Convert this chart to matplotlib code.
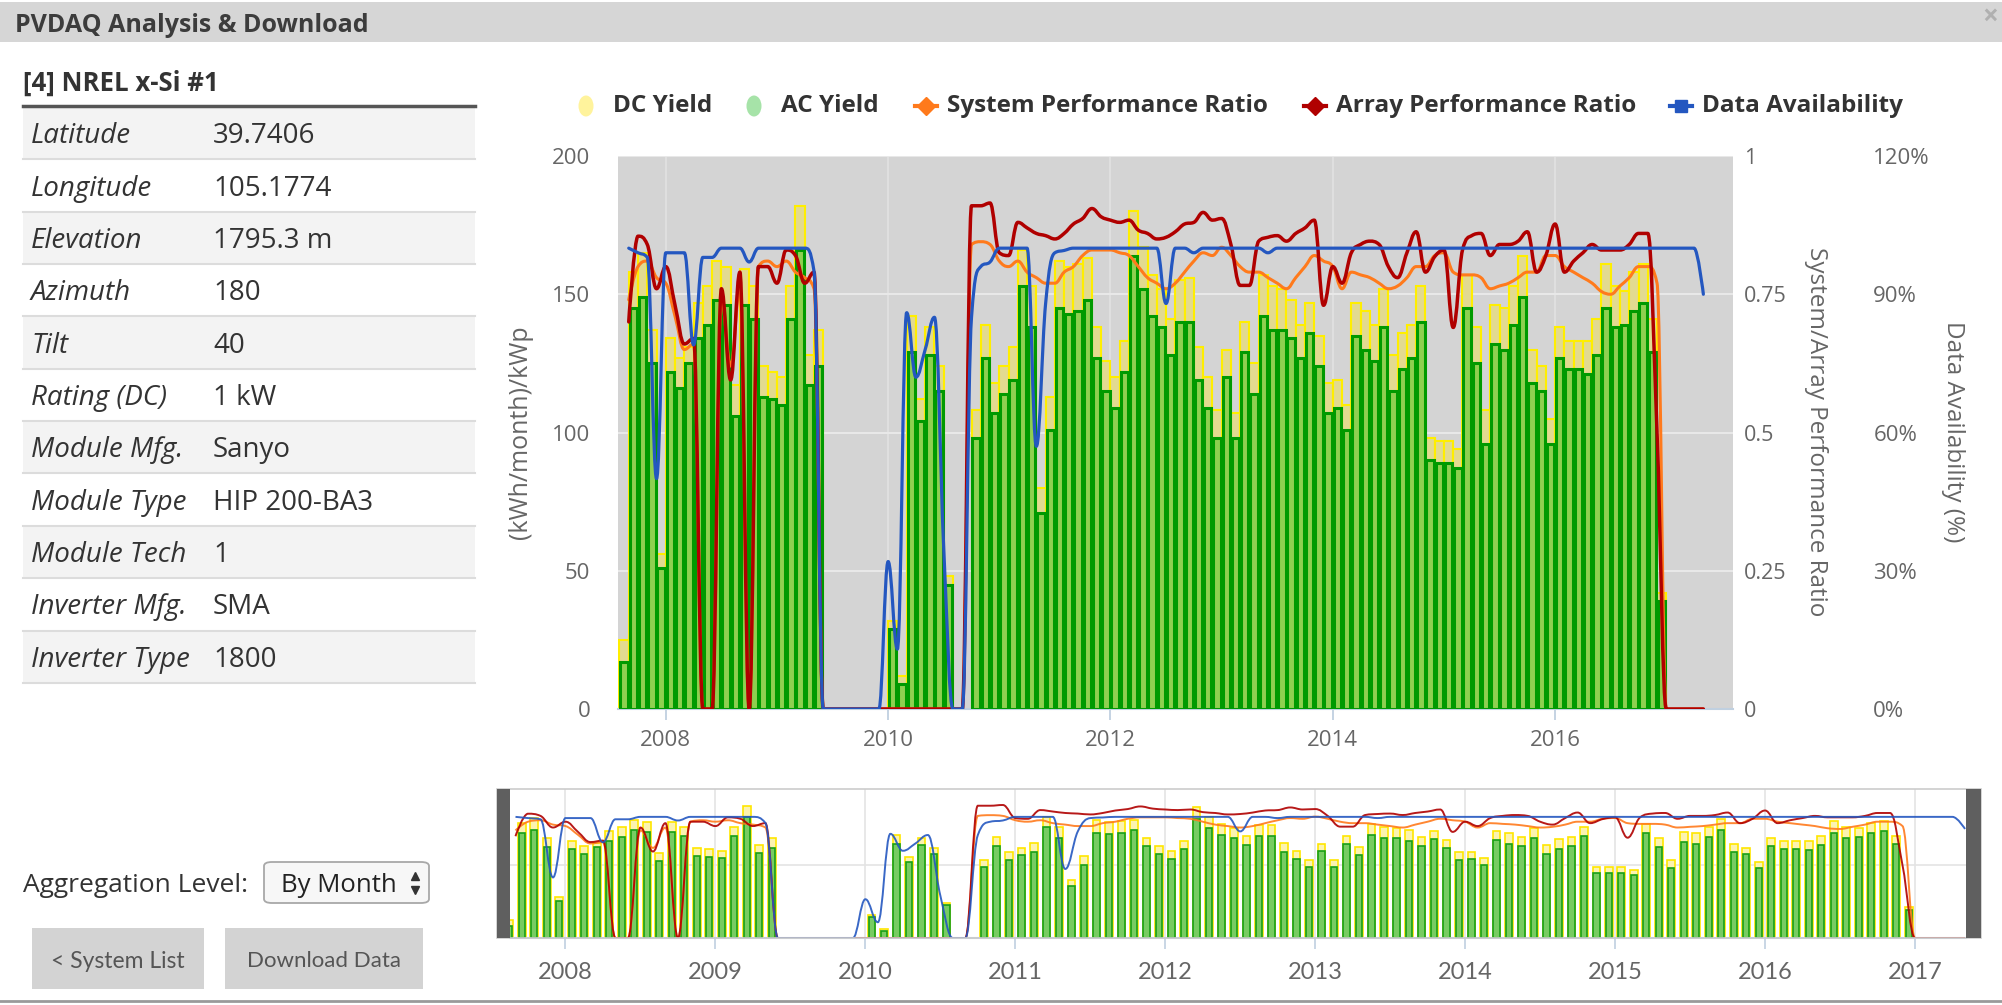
import numpy as np
import matplotlib
matplotlib.use('Agg')
import matplotlib.pyplot as plt
from matplotlib.path import Path
from matplotlib.patches import PathPatch, Rectangle, FancyBboxPatch, Ellipse
from matplotlib.lines import Line2D

plt.rcParams['font.family'] = ['Open Sans', 'DejaVu Sans']
NARROW = ['Lato', 'DejaVu Sans']

N = None

# left panel
system_name = '[4] NREL x-Si #1'
info_labels = ['Latitude', 'Longitude', 'Elevation', 'Azimuth', 'Tilt', 'Rating (DC)',
               'Module Mfg.', 'Module Type', 'Module Tech', 'Inverter Mfg.', 'Inverter Type']
info_values = ['39.7406', '105.1774', '1795.3 m', '180', '40', '1 kW',
               'Sanyo', 'HIP 200-BA3', '1', 'SMA', '1800']

# monthly yields (kWh/month)/kWp, Aug 2007 .. Dec 2016
dc_yield = [25, 158, 165, 137, 56,
            134, 127, 131, 147, 153, 162, 160, 117, 159, 153, 124, 122,
            120, 153, 182, 128, 137, N, N, N, N, N, N, N,
            32, 12, 142, 112, 138, 124, 48, N, N, 108, 139, 118,
            124, 131, 166, 153, 80, 113, 162, 160, 161, 163, 138, 126,
            120, 133, 180, 167, 157, 152, 141, 155, 156, 131, 120, 108,
            130, 107, 140, 125, 157, 153, 152, 148, 139, 147, 135, 118,
            119, 110, 147, 144, 139, 152, 128, 136, 139, 153, 98, 97,
            97, 94, 157, 138, 108, 146, 145, 153, 164, 130, 124, 105,
            138, 133, 133, 133, 141, 161, 153, 151, 158, 161, 141, 42]
ac_yield = [17, 145, 149, 125, 51,
            122, 116, 125, 134, 139, 148, 146, 106, 146, 141, 113, 112,
            110, 141, 166, 117, 124, N, N, N, N, N, N, N,
            29, 9, 129, 104, 128, 115, 45, N, N, 98, 127, 107,
            114, 119, 153, 138, 71, 101, 145, 143, 144, 148, 127, 115,
            109, 122, 164, 152, 142, 138, 128, 140, 140, 119, 109, 98,
            120, 98, 129, 114, 142, 137, 137, 134, 127, 136, 124, 107,
            109, 101, 135, 130, 126, 138, 115, 123, 127, 140, 90, 89,
            89, 87, 145, 125, 96, 132, 130, 139, 149, 118, 115, 96,
            127, 123, 123, 121, 128, 145, 138, 139, 144, 147, 129, 39]

# monthly ratios, Sep 2007 .. May 2017
system_pr = [0.74, 0.80, 0.81, 0.78,
             0.77, 0.71, 0.65, 0.66, 0, 0, 0.74, 0.62, 0.76, 0, 0.80, 0.81,
             0.80, 0.81, 0.79, 0.78, 0.76, 0, 0, 0, 0, 0, 0, 0,
             0, 0, 0, 0, 0, 0, 0, 0, 0, 0.84, 0.845, 0.84,
             0.81, 0.80, 0.81, 0.79, 0.78, 0.77, 0.77, 0.79, 0.80, 0.82, 0.83, 0.83,
             0.83, 0.825, 0.82, 0.80, 0.78, 0.77, 0.76, 0.77, 0.79, 0.81, 0.825, 0.82,
             0.835, 0.82, 0.80, 0.79, 0.79, 0.78, 0.77, 0.76, 0.78, 0.80, 0.82, 0.81,
             0.80, 0.76, 0.79, 0.785, 0.78, 0.77, 0.76, 0.765, 0.78, 0.80, 0.80, 0.82,
             0.825, 0.79, 0.785, 0.785, 0.78, 0.76, 0.765, 0.77, 0.78, 0.79, 0.79, 0.82,
             0.82, 0.80, 0.79, 0.78, 0.77, 0.755, 0.75, 0.765, 0.78, 0.80, 0.80, 0.77,
             0, 0, 0, 0, 0]
array_pr = [0.70, 0.855, 0.84, 0.76,
            0.80, 0.73, 0.66, 0.67, 0, 0, 0.76, 0.595, 0.79, 0, 0.80, 0.80,
            0.77, 0.83, 0.82, 0.77, 0.79, 0, 0, 0, 0, 0, 0, 0,
            0, 0, 0, 0, 0, 0, 0, 0, 0, 0.91, 0.91, 0.915,
            0.825, 0.82, 0.88, 0.87, 0.86, 0.856, 0.85, 0.86, 0.877, 0.887, 0.905, 0.89,
            0.884, 0.88, 0.884, 0.866, 0.86, 0.85, 0.853, 0.863, 0.877, 0.88, 0.898, 0.884,
            0.887, 0.84, 0.766, 0.766, 0.846, 0.853, 0.856, 0.846, 0.86, 0.87, 0.884, 0.73,
            0.80, 0.77, 0.825, 0.84, 0.846, 0.84, 0.80, 0.78, 0.825, 0.863, 0.79, 0.818,
            0.83, 0.69, 0.83, 0.856, 0.86, 0.82, 0.84, 0.84, 0.846, 0.863, 0.79, 0.82,
            0.877, 0.79, 0.81, 0.825, 0.84, 0.83, 0.83, 0.83, 0.84, 0.86, 0.86, 0.5,
            0, 0, 0, 0, 0]
availability = [100, 99, 98, 50,
                99, 99, 99, 79, 98, 98, 100, 100, 100, 97, 100, 100,
                100, 100, 100, 100, 95, 0, 0, 0, 0, 0, 0, 0,
                32, 13, 86, 72, 78, 85, 35, 0, 0, 85, 96, 97,
                100, 100, 100, 100, 57, 88, 99, 99.5, 100, 100, 100, 100,
                100, 100, 100, 100, 100, 100, 88, 100, 100, 99, 100, 100,
                100, 100, 100, 100, 100, 99, 100, 100, 100, 100, 100, 100,
                100, 100, 100, 100, 100, 100, 100, 100, 100, 100, 100, 100,
                100, 100, 100, 100, 100, 100, 100, 100, 100, 100, 100, 100,
                100, 100, 100, 100, 100, 100, 100, 100, 100, 100, 100, 100,
                100, 100, 100, 100, 90]

main_years = [2008, 2010, 2012, 2014, 2016]
nav_years = list(range(2008, 2018))

C_DC_FACE, C_DC_EDGE = '#e2da90', '#ffee00'
C_AC_FACE, C_AC_EDGE = '#8fd050', '#009a00'
C_SYS, C_ARR, C_AV = '#ff7a1c', '#b00000', '#2457c0'
TXT = '#333333'
TICK = '#666666'

W, H = 2002, 1005
fig = plt.figure(figsize=(W / 100, H / 100), dpi=100)


def fx(px):
    return px / W


def fy(py):
    return 1 - py / H


def box(x0, y0, x1, y1, **kw):
    fig.add_artist(Rectangle((fx(x0), fy(y1)), (x1 - x0) / W, (y1 - y0) / H,
                             transform=fig.transFigure, **kw))


def hline(x0, x1, y, **kw):
    fig.add_artist(Line2D([fx(x0), fx(x1)], [fy(y), fy(y)], transform=fig.transFigure, **kw))


def month_pos(y0, m0, n, offset=0.0):
    return y0 + (np.arange(n) + m0 - 1 + offset) / 12.0


def hc_spline(x, y, smooth=1.5):
    # highcharts style spline -> cubic bezier path
    x = np.asarray(x, float)
    y = np.asarray(y, float)
    n = len(x)
    lcx, lcy, rcx, rcy = x.copy(), y.copy(), x.copy(), y.copy()
    d = smooth + 1
    for i in range(1, n - 1):
        lx = (smooth * x[i] + x[i - 1]) / d
        ly = (smooth * y[i] + y[i - 1]) / d
        rx = (smooth * x[i] + x[i + 1]) / d
        ry = (smooth * y[i] + y[i + 1]) / d
        if rx != lx:
            c = (ry - ly) * (rx - x[i]) / (rx - lx) + y[i] - ry
            ly += c
            ry += c
        hi, lo = max(y[i - 1], y[i]), min(y[i - 1], y[i])
        if ly > hi:
            ly = hi
            ry = 2 * y[i] - ly
        elif ly < lo:
            ly = lo
            ry = 2 * y[i] - ly
        hi, lo = max(y[i + 1], y[i]), min(y[i + 1], y[i])
        if ry > hi:
            ry = hi
            ly = 2 * y[i] - ry
        elif ry < lo:
            ry = lo
            ly = 2 * y[i] - ry
        lcx[i], lcy[i], rcx[i], rcy[i] = lx, ly, rx, ry
    verts = [(x[0], y[0])]
    codes = [Path.MOVETO]
    for i in range(1, n):
        verts += [(rcx[i - 1], rcy[i - 1]), (lcx[i], lcy[i]), (x[i], y[i])]
        codes += [Path.CURVE4] * 3
    return Path(verts, codes)


dc = np.array(dc_yield, dtype=float)
ac = np.array(ac_yield, dtype=float)
bar_x = month_pos(2007, 8, len(dc), 0.5)
line_x = month_pos(2007, 9, len(system_pr))
pr_sys = np.array(system_pr, dtype=float)
pr_arr = np.array(array_pr, dtype=float)
avail = np.array(availability, dtype=float)

# ---------------- page chrome ----------------
box(0, 2, W, 42, facecolor='#d6d6d6', edgecolor='none')
fig.text(fx(15), fy(26), 'PVDAQ Analysis & Download', fontsize=18, fontweight='bold',
         color='#3c3c3c', va='center', ha='left')
fig.text(fx(1990), fy(17), '\u00d7', fontsize=20, fontweight='bold', color='#b0b0b0',
         va='center', ha='center')
hline(0, W, 1001, color='#9a9a9a', lw=2)

# ---------------- left info table ----------------
fig.text(fx(23), fy(83), system_name, fontsize=18.5, fontweight='bold', color=TXT,
         va='center', ha='left')
row_top, row_h = 107, 52.35
for i, (lab, val) in enumerate(zip(info_labels, info_values)):
    y0 = row_top + i * row_h
    if i % 2 == 0:
        box(23, y0, 475, y0 + row_h, facecolor='#f3f3f3', edgecolor='none')
    hline(23, 475, y0 + row_h, color='#dcdcdc', lw=1.5)
    fig.text(fx(31), fy(y0 + row_h / 2 + 3), lab, fontsize=20, style='italic', color=TXT,
             va='center', ha='left')
    fig.text(fx(213), fy(y0 + row_h / 2 + 3), val, fontsize=20, color=TXT,
             va='center', ha='left')
hline(23, 475, 106, color='#555555', lw=2.5)

# aggregation selector and buttons
fig.text(fx(23), fy(886), 'Aggregation Level:', fontsize=19, color=TXT, va='center', ha='left')
fig.add_artist(FancyBboxPatch((fx(264), fy(903)), 165 / W, 41 / H,
                              boxstyle='round,pad=0,rounding_size=0.004',
                              transform=fig.transFigure, facecolor='#f7f7f7',
                              edgecolor='#a8a8a8', lw=1.3))
fig.text(fx(281), fy(885), 'By Month', fontsize=18.5, color='#222222', va='center', ha='left')
fig.add_artist(Line2D([fx(415)], [fy(876)], marker='^', ms=6, color='#333333',
                      transform=fig.transFigure))
fig.add_artist(Line2D([fx(415)], [fy(890)], marker='v', ms=6, color='#333333',
                      transform=fig.transFigure))
box(32, 928, 204, 989, facecolor='#d3d3d3', edgecolor='none')
box(225, 928, 423, 989, facecolor='#d3d3d3', edgecolor='none')
fig.text(fx(118), fy(961), '< System List', fontsize=16.5, color='#555555', va='center',
         ha='center', family=NARROW)
fig.text(fx(324), fy(961), 'Download Data', fontsize=16, color='#555555', va='center',
         ha='center', family=NARROW)

# ---------------- main chart ----------------
ax = fig.add_axes([fx(618), fy(709), (1733 - 618) / W, (709 - 156) / H])
ax.set_facecolor('#d4d4d4')
ax.set_xlim(2007.57, 2017.60)
ax.set_ylim(0, 200)
ax.bar(bar_x, dc, width=1 / 12, color=C_DC_FACE, edgecolor=C_DC_EDGE, lw=1.5, zorder=2)
ax.bar(bar_x, ac, width=0.8 / 12, color=C_AC_FACE, edgecolor=C_AC_EDGE, lw=2.2, zorder=3)
ax.set_yticks([0, 50, 100, 150, 200])
ax.set_xticks(main_years)
ax.set_xticklabels([str(y) for y in main_years])
ax.grid(axis='y', color='#e8e8e8', lw=1.5, zorder=0)
ax.grid(axis='x', color='#e2e2e2', lw=1.2, zorder=0)
ax.set_axisbelow(True)
for s in ['top', 'left', 'right']:
    ax.spines[s].set_visible(False)
ax.spines['bottom'].set_color('#c0d0e0')
ax.spines['bottom'].set_linewidth(1.5)
ax.tick_params(axis='y', length=0, pad=20, labelsize=16, labelcolor=TICK)
ax.tick_params(axis='x', length=8, width=1.3, color='#c0d0e0', pad=7,
               labelsize=16, labelcolor=TICK)

ax_pr = ax.twinx()
ax_pr.set_ylim(0, 1)
ax_pr.set_yticks([0, 0.25, 0.5, 0.75, 1])
ax_pr.set_yticklabels(['0', '0.25', '0.5', '0.75', '1'])
ax_pr.tick_params(axis='y', length=0, pad=8, labelsize=15.5, labelcolor=TICK)
ax_pr.add_patch(PathPatch(hc_spline(line_x, pr_sys), fill=False, edgecolor=C_SYS, lw=2.2,
                          joinstyle='round', capstyle='round'))
ax_pr.add_patch(PathPatch(hc_spline(line_x, pr_arr), fill=False, edgecolor=C_ARR, lw=2.5,
                          joinstyle='round', capstyle='round'))

ax_av = ax.twinx()
ax_av.set_ylim(0, 120)
ax_av.set_yticks([0, 30, 60, 90, 120])
ax_av.set_yticklabels(['0%', '30%', '60%', '90%', '120%'])
ax_av.tick_params(axis='y', length=0, pad=101, labelsize=16, labelcolor=TICK)
ax_av.add_patch(PathPatch(hc_spline(line_x, avail), fill=False, edgecolor=C_AV, lw=2.3,
                          joinstyle='round', capstyle='round'))
for a in (ax_pr, ax_av):
    for s in a.spines.values():
        s.set_visible(False)

fig.text(fx(520), fy(432), '(kWh/month)/kWp', rotation=90, fontsize=18, color=TICK,
         va='center', ha='center')
fig.text(fx(1816), fy(432), 'System/Array Performance Ratio', rotation=270, fontsize=17.5,
         color=TICK, va='center', ha='center')
fig.text(fx(1953), fy(432), 'Data Availability (%)', rotation=270, fontsize=17.5,
         color=TICK, va='center', ha='center')

# legend
ly = 106
fig.add_artist(Ellipse((fx(586), fy(ly)), 15 / W, 21 / H, transform=fig.transFigure,
                       facecolor='#fff39c', edgecolor='none'))
fig.add_artist(Ellipse((fx(754), fy(ly)), 15 / W, 21 / H, transform=fig.transFigure,
                       facecolor='#a6e3a8', edgecolor='none'))
for x0, col, mk, lab in [(613, None, None, 'DC Yield'), (781, None, None, 'AC Yield'),
                         (947, C_SYS, 'D', 'System Performance Ratio'),
                         (1336, C_ARR, 'D', 'Array Performance Ratio'),
                         (1702, C_AV, 's', 'Data Availability')]:
    if col is not None:
        fig.add_artist(Line2D([fx(x0 - 32), fx(x0 - 10)], [fy(ly), fy(ly)], color=col, lw=3,
                              transform=fig.transFigure))
        fig.add_artist(Line2D([fx(x0 - 21)], [fy(ly)], marker=mk, ms=9, color=col,
                              transform=fig.transFigure))
    fig.text(fx(x0), fy(ly), lab, fontsize=17.5, fontweight='bold', color=TXT,
             va='center', ha='left')

# ---------------- navigator ----------------
nav = fig.add_axes([fx(510), fy(938), (1966 - 510) / W, (938 - 789) / H])
nav.set_facecolor('white')
nav.set_xlim(2007.63, 2017.34)
nav.set_ylim(0, 205)
nav.bar(bar_x, dc, width=0.62 / 12, color='#fbf3b0', edgecolor='#ffe600', lw=1.2, zorder=2)
nav.bar(bar_x, ac, width=0.5 / 12, color='#78cc62', edgecolor='#17a017', lw=1.2, zorder=3)
nav.add_patch(PathPatch(hc_spline(line_x, pr_sys * 200), fill=False, edgecolor=C_SYS,
                        lw=1.4, alpha=0.9, zorder=4))
nav.add_patch(PathPatch(hc_spline(line_x, pr_arr * 200), fill=False, edgecolor=C_ARR,
                        lw=1.4, alpha=0.9, zorder=4))
nav.add_patch(PathPatch(hc_spline(line_x, avail * 200 / 120), fill=False, edgecolor=C_AV,
                        lw=1.4, alpha=0.9, zorder=4))
nav.set_xticks(nav_years)
nav.set_xticklabels([str(y) for y in nav_years], family=NARROW)
nav.set_yticks([100])
nav.grid(axis='both', color='#e4e4e4', lw=1.2, zorder=0)
nav.set_axisbelow(True)
for s in ['top', 'left', 'right']:
    nav.spines[s].set_visible(False)
nav.spines['bottom'].set_color('#c0d0e0')
nav.spines['bottom'].set_linewidth(1.5)
nav.tick_params(axis='y', length=0, labelleft=False)
nav.tick_params(axis='x', length=8, width=1.2, color='#c0d0e0', pad=9,
                labelsize=17, labelcolor=TICK)
box(497, 789, 1981, 938, facecolor='none', edgecolor='#cccccc', lw=1.2)
box(497, 789, 510, 938, facecolor='#5f5f5f', edgecolor='none')
box(1966, 789, 1981, 938, facecolor='#5f5f5f', edgecolor='none')

fig.savefig('out.png', dpi=100)
